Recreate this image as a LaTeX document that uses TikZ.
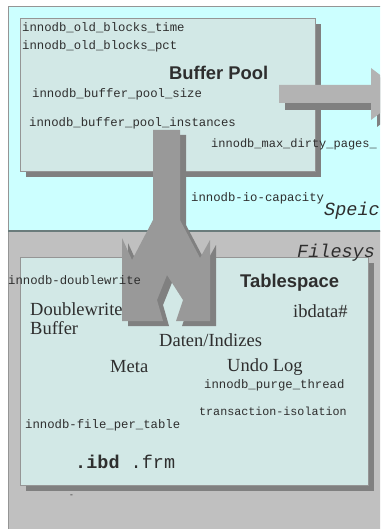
\documentclass[tikz,border=0pt]{standalone}
\usepackage{fontspec}
\setmainfont{Liberation Serif}
\setsansfont{Liberation Sans}
\setmonofont{Liberation Mono}
\definecolor{cyanbg}{HTML}{CCFFFF}
\definecolor{graybg}{HTML}{C0C0C0}
\definecolor{boxfill}{HTML}{D2E8E6}
\definecolor{edgegray}{HTML}{959595}
\definecolor{sepline}{HTML}{6A7C7C}
\definecolor{shadowgray}{HTML}{808080}
\definecolor{arrowgray}{HTML}{999999}
\definecolor{lightarrow}{HTML}{B3B3B3}
\definecolor{txt}{HTML}{2E2E2E}
\tikzset{
  mono/.style={anchor=base west, inner sep=0pt, text=txt, font=\ttfamily\fontsize{12.3}{14}\selectfont},
  big/.style={anchor=base west, inner sep=0pt, text=txt, font=\sffamily\bfseries\fontsize{18.4}{20}\selectfont},
  serifbig/.style={anchor=base west, inner sep=0pt, text=txt, font=\rmfamily\fontsize{18.5}{20}\selectfont},
  monoital/.style={anchor=base west, inner sep=0pt, text=txt, font=\ttfamily\itshape\fontsize{18.5}{20}\selectfont},
  panel/.style={fill=boxfill, draw=edgegray, line width=0.8pt},
  shadow/.style={fill=shadowgray},
}
\begin{document}
\begin{tikzpicture}[x=1pt,y=-1pt]
\useasboundingbox (0,0) rectangle (380,529);
\clip (0,0) rectangle (380,529);
\fill[white] (0,0) rectangle (380,529);
% regions
\filldraw[fill=cyanbg, draw=edgegray, line width=0.8pt] (8,6) rectangle (400,231);
\fill[graybg] (8,231) rectangle (400,540);
\draw[edgegray, line width=0.8pt] (8,231) -- (8,540);
\draw[sepline, line width=2pt] (8,231) -- (400,231);
% buffer pool box
\fill[shadow] (26,24) rectangle (321,177);
\filldraw[panel] (20,18) rectangle (315,171);
% right arrow
\fill[shadow, shift={(6,7)}] (279,85) -- (371,85) -- (371,68) -- (405,94) -- (371,120) -- (371,103) -- (279,103) -- cycle;
\fill[lightarrow] (279,85) -- (371,85) -- (371,68) -- (405,94) -- (371,120) -- (371,103) -- (279,103) -- cycle;
% tablespace box
\fill[shadow] (26,263) rectangle (374,491);
\filldraw[panel] (20,257) rectangle (368,485);
% text under the arrow
\node[serifbig] (dw) at (30,315) {Doublewrite};
% main arrow
\fill[shadow, shift={(6,5)}] (153,130) -- (180,130) -- (180,220) -- (200,258) -- (210,240) -- (210,321) -- (176,321) -- (183,300) -- (167,275) -- (157,300) -- (163,321) -- (122,321) -- (122,238) -- (132,260) -- (153,220) -- cycle;
\fill[arrowgray] (153,130) -- (180,130) -- (180,220) -- (200,258) -- (210,240) -- (210,321) -- (176,321) -- (183,300) -- (167,275) -- (157,300) -- (163,321) -- (122,321) -- (122,238) -- (132,260) -- (153,220) -- cycle;
% buffer pool texts
\node[mono] (obt) at (22,32) {innodb\_old\_blocks\_time};
\node[mono] (obp) at (22,50) {innodb\_old\_blocks\_pct};
\node[big] (bp) at (169,80) {Buffer Pool};
\node[mono] (bps) at (32,98) {innodb\_buffer\_pool\_size};
\node[mono] (bpi) at (29,127) {innodb\_buffer\_pool\_instances};
\node[mono, font=\ttfamily\fontsize{12.0}{14}\selectfont] (mdp) at (211,148) {innodb\_max\_dirty\_pages\_};
\node[mono] (ioc) at (191,201) {innodb-io-capacity};
\node[monoital] (sp) at (324,215) {Speic};
% filesystem texts
\node[monoital] (fs) at (297,257) {Filesys};
\node[mono] (idw) at (8,284) {innodb-doublewrite};
\node[big] (ts) at (240,287) {Tablespace};
\node[serifbig] (buf) at (30,334) {Buffer};
\node[serifbig] (ibd) at (293,317) {ibdata\#};
\node[serifbig] (di) at (159,346) {Daten/Indizes};
\node[serifbig] (meta) at (110,372) {Meta};
\node[serifbig] (undo) at (227,371) {Undo Log};
\node[mono] (pt) at (204,388) {innodb\_purge\_thread};
\node[mono, font=\ttfamily\fontsize{11.7}{14}\selectfont] (ti) at (199,415) {transaction-isolation};
\node[mono] (fpt) at (25,428) {innodb-file\_per\_table};
\node[mono, font=\ttfamily\fontsize{18.5}{20}\selectfont] (ext) at (75,468) {\textbf{.ibd} .frm};
\node[mono, font=\ttfamily\fontsize{8}{9}\selectfont] (dash) at (69,497) {-};
\end{tikzpicture}
\end{document}
